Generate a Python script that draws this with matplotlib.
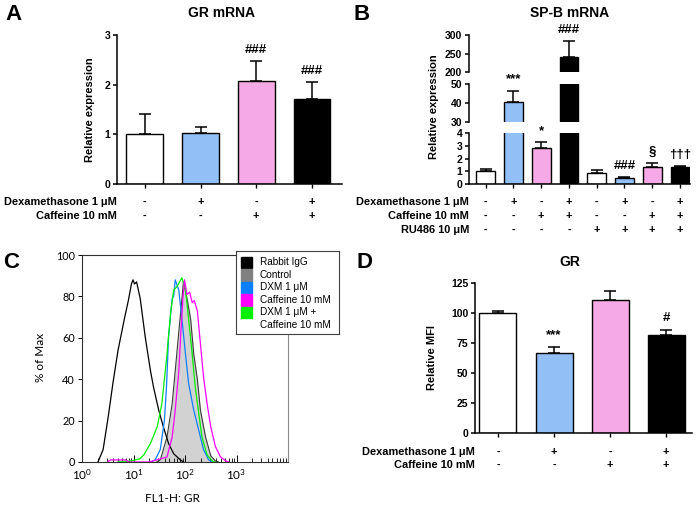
import matplotlib
matplotlib.use('Agg')
import matplotlib.pyplot as plt
import matplotlib.transforms as mtransforms
import numpy as np

plt.rcParams['font.family'] = ['Liberation Sans', 'DejaVu Sans']
plt.rcParams['font.weight'] = 'bold'

W, H = 700, 507
BLUE = '#91bff6'
PINK = '#f5a9e6'

# ---- Panel A : GR mRNA
gr_mrna = [1.00, 1.03, 2.07, 1.72]
gr_mrna_err = [0.40, 0.12, 0.41, 0.34]
gr_mrna_marks = ['', '', '###', '###']

# ---- Panel B : SP-B mRNA
spb_mrna = [1.0, 40.5, 2.8, 240, 0.9, 0.5, 1.35, 1.3]
spb_mrna_err = [0.2, 6.0, 0.5, 43, 0.22, 0.08, 0.27, 0.08]
spb_marks = ['', '***', '*', '###', '', '###', '§', '†††']

# ---- Panel D : GR MFI
gr_mfi = [100, 66.5, 111, 82]
gr_mfi_err = [1.8, 5.0, 7.0, 4.0]
gr_mfi_marks = ['', '***', '', '#']

colors4 = ['white', BLUE, PINK, 'black']
colors8 = colors4 * 2

dex4 = ['-', '+', '-', '+']
caf4 = ['-', '-', '+', '+']
dex8 = ['-', '+', '-', '+', '-', '+', '-', '+']
caf8 = ['-', '-', '+', '+', '-', '-', '+', '+']
ru8 = ['-', '-', '-', '-', '+', '+', '+', '+']

# ---- Panel C : flow histograms (log10 of FL1-H, % of max)
igg_log10 = [0.31, 0.41, 0.51, 0.60, 0.70, 0.83, 0.90, 0.96, 0.99, 1.02, 1.06, 1.13, 1.23, 1.33, 1.39, 1.49, 1.58, 1.68, 1.78, 1.91, 1.97]
igg_pct = [0, 6, 22, 38, 54, 70, 78, 86, 88, 86, 87, 79, 60, 44, 36, 25, 17, 9, 4, 1, 0]
ctrl_log10 = [1.45, 1.52, 1.65, 1.75, 1.81, 1.88, 1.94, 1.97, 2.04, 2.11, 2.17, 2.24, 2.30, 2.40, 2.50, 2.59, 2.65]
ctrl_pct = [0, 1, 12, 28, 44, 63, 79, 87, 79, 69, 52, 40, 25, 12, 3, 0.5, 0]
dxm_log10 = [1.35, 1.42, 1.52, 1.60, 1.64, 1.68, 1.75, 1.78, 1.81, 1.88, 1.94, 2.01, 2.07, 2.17, 2.27, 2.36, 2.46, 2.52]
dxm_pct = [0, 1, 6, 20, 36, 60, 79, 80, 88, 83, 69, 52, 38, 25, 15, 6, 1, 0]
caf_log10 = [0.50, 0.55, 0.85, 0.90, 1.30, 1.45, 1.65, 1.75, 1.81, 1.88, 1.92, 1.96, 1.99, 2.04, 2.09, 2.14, 2.18, 2.24, 2.30, 2.36, 2.43, 2.50, 2.59, 2.69, 2.79, 2.85]
caf_pct = [0, 1, 1, 0, 0, 1, 2.4, 12, 25, 44, 63, 79, 88, 81, 82, 77, 78, 73, 57, 41, 28, 17, 7.5, 2.4, 0.5, 0]
combo_log10 = [0.70, 0.95, 1.12, 1.20, 1.33, 1.46, 1.55, 1.65, 1.72, 1.78, 1.85, 1.94, 2.01, 2.07, 2.14, 2.20, 2.27, 2.33, 2.43, 2.53, 2.58]
combo_pct = [0, 0.5, 1.5, 3.4, 9, 17, 28, 52, 72, 83, 85, 89, 83, 69, 52, 36, 23, 12, 3.4, 0.5, 0]
c_labels = ['Rabbit IgG', 'Control', 'DXM 1 μM', 'Caffeine 10 mM', 'DXM 1 μM +\nCaffeine 10 mM']
c_colors = ['black', '#808080', '#0a80ff', '#ff00ff', '#00ee00']

fig = plt.figure(figsize=(7, 5.07), dpi=100)


def px_axes(x0, y0, x1, y1):
    return fig.add_axes([x0 / W, 1 - y1 / H, (x1 - x0) / W, (y1 - y0) / H])


def ftext(x, y, s, **kw):
    fig.text(x / W, 1 - y / H, s, **kw)


def style_bar_axes(ax, bottom=True):
    for s in ['top', 'right']:
        ax.spines[s].set_visible(False)
    ax.spines['left'].set_linewidth(1.1)
    ax.spines['bottom'].set_linewidth(1.1)
    ax.spines['bottom'].set_visible(bottom)
    ax.tick_params(axis='y', direction='out', length=2.9, width=1.1, labelsize=7.5, pad=2.0)
    ax.tick_params(axis='x', direction='out', length=2.9, width=1.0, labelbottom=False, bottom=bottom)


def draw_bars(ax, vals, errs, colors, width):
    x = np.arange(len(vals))
    ax.bar(x, vals, width, color=colors, edgecolor='black', linewidth=1.0, zorder=2)
    ax.errorbar(x, vals, yerr=[np.zeros(len(errs)), errs], fmt='none', ecolor='black',
                elinewidth=1.1, capsize=4.3, capthick=1.1, zorder=1)
    ax.set_xticks(x)


def draw_marks(ax, j, top, mark, dy_px=11, fs=9.5):
    ax.annotate(mark, xy=(j, top), xytext=(0, dy_px * 0.72), textcoords='offset points',
                ha='center', va='center', fontsize=fs, annotation_clip=False)


def draw_table(ax, names, rows, first_px=18, gap_px=14):
    trans = mtransforms.blended_transform_factory(ax.transData, ax.transAxes)
    for i, (name, signs) in enumerate(zip(names, rows)):
        dy = -(first_px + gap_px * i) * 0.72
        ax.annotate(name, xy=(0, 0), xycoords='axes fraction', xytext=(0, dy),
                    textcoords='offset points', ha='right', va='center', fontsize=7.9)
        for j, s in enumerate(signs):
            ax.annotate(s, xy=(j, 0), xycoords=trans, xytext=(0, dy),
                        textcoords='offset points', ha='center', va='center', fontsize=7.9)


# ================= Panel A
axA = px_axes(117, 35, 342, 184)
draw_bars(axA, gr_mrna, gr_mrna_err, colors4, 0.66)
axA.set_xlim(-0.50, 3.54)
axA.set_ylim(0, 3)
axA.set_yticks([0, 1, 2, 3])
style_bar_axes(axA)
for j, m in enumerate(gr_mrna_marks):
    if m:
        draw_marks(axA, j, gr_mrna[j] + gr_mrna_err[j], m)
draw_table(axA, ['Dexamethasone 1 μM', 'Caffeine 10 mM'], [dex4, caf4])
ftext(90, 110, 'Relative expression', rotation=90, ha='center', va='center', fontsize=8)
ftext(222, 13, 'GR mRNA', ha='center', va='center', fontsize=10)
ftext(13, 15, 'A', ha='center', va='center', fontsize=16)

# ================= Panel B (broken axis)
seg_px = [(133, 184), (84, 122), (35, 72)]
seg_lim = [(0, 4), (30, 50), (200, 300)]
seg_ticks = [[0, 1, 2, 3, 4], [30, 40, 50], [200, 250, 300]]
segs = []
for k, ((y0, y1), lim, tk) in enumerate(zip(seg_px, seg_lim, seg_ticks)):
    ax = px_axes(469, y0, 690, y1)
    draw_bars(ax, spb_mrna, spb_mrna_err, colors8, 0.68)
    ax.set_xlim(-0.60, 7.36)
    ax.set_ylim(*lim)
    ax.set_yticks(tk)
    style_bar_axes(ax, bottom=(k == 0))
    ax.patch.set_alpha(0)
    segs.append(ax)
for j, m in enumerate(spb_marks):
    if not m:
        continue
    top = spb_mrna[j] + spb_mrna_err[j]
    for ax, lim in zip(segs, seg_lim):
        if lim[0] <= top <= lim[1]:
            draw_marks(ax, j, top, m)
draw_table(segs[0], ['Dexamethasone 1 μM', 'Caffeine 10 mM', 'RU486 10 μM'], [dex8, caf8, ru8])
ftext(434, 107, 'Relative expression', rotation=90, ha='center', va='center', fontsize=8)
ftext(570, 13, 'SP-B mRNA', ha='center', va='center', fontsize=10)
ftext(362, 15, 'B', ha='center', va='center', fontsize=16)

# ================= Panel D
axD = px_axes(475, 283, 692, 433)
draw_bars(axD, gr_mfi, gr_mfi_err, colors4, 0.66)
axD.set_xlim(-0.41, 3.46)
axD.set_ylim(0, 125)
axD.set_yticks([0, 25, 50, 75, 100, 125])
style_bar_axes(axD)
for j, m in enumerate(gr_mfi_marks):
    if m:
        draw_marks(axD, j, gr_mfi[j] + gr_mfi_err[j], m, dy_px=12)
draw_table(axD, ['Dexamethasone 1 μM', 'Caffeine 10 mM'], [dex4, caf4], first_px=19, gap_px=13)
ftext(432, 358, 'Relative MFI', rotation=90, ha='center', va='center', fontsize=8)
ftext(570, 262, 'GR', ha='center', va='center', fontsize=10)
ftext(365, 263, 'D', ha='center', va='center', fontsize=16)

# ================= Panel C (flow cytometry)
cfont = dict(family=['Lato', 'DejaVu Sans'], fontweight='normal')
axC = px_axes(82, 255, 288, 462)
axC.set_xscale('log')
axC.fill_between(10 ** np.array(ctrl_log10), ctrl_pct, color='#d2d2d2', lw=0, zorder=1)
axC.plot(10 ** np.array(ctrl_log10), ctrl_pct, color='#3a3a3a', lw=0.8, zorder=2)
axC.plot(10 ** np.array(igg_log10), igg_pct, color=c_colors[0], lw=0.9, zorder=3)
axC.plot(10 ** np.array(dxm_log10), dxm_pct, color=c_colors[2], lw=0.9, zorder=3)
axC.plot(10 ** np.array(combo_log10), combo_pct, color=c_colors[4], lw=0.9, zorder=3)
axC.plot(10 ** np.array(caf_log10), caf_pct, color=c_colors[3], lw=0.9, zorder=3)
axC.set_xlim(1, 1e4)
axC.set_ylim(0, 100)
axC.set_yticks([0, 20, 40, 60, 80, 100])
axC.set_yticklabels(['0', '20', '40', '60', '80', '100'], fontsize=7.8, **cfont)
axC.set_xticks([1, 10, 100, 1000])
axC.set_xticklabels([r'$\mathdefault{10^{0}}$', r'$\mathdefault{10^{1}}$',
                     r'$\mathdefault{10^{2}}$', r'$\mathdefault{10^{3}}$'], fontsize=8.5, **cfont)
minor = [m * 10 ** d for d in range(4) for m in range(2, 10)]
axC.set_xticks(minor, minor=True)
axC.tick_params(axis='x', which='major', direction='in', length=5, width=0.7, pad=4)
axC.tick_params(axis='x', which='minor', direction='in', length=3, width=0.6, labelbottom=False)
axC.tick_params(axis='y', direction='out', length=3, width=0.7, pad=2)
for s in axC.spines.values():
    s.set_linewidth(0.8)
    s.set_color('#303030')
axC.spines['right'].set_color('#8a8a8a')
ftext(40, 357, '% of Max', rotation=90, ha='center', va='center', fontsize=8.5, **cfont)
ftext(172, 499, 'FL1-H: GR', ha='center', va='center', fontsize=8.5, **cfont)
ftext(11, 262, 'C', ha='center', va='center', fontsize=16)

# legend box for panel C
leg = px_axes(236, 251, 339, 334)
leg.set_xlim(0, 103)
leg.set_ylim(83, 0)
leg.set_xticks([])
leg.set_yticks([])
for s in leg.spines.values():
    s.set_linewidth(0.8)
    s.set_color('#404040')
row = 0
for lab, col in zip(c_labels, c_colors):
    leg.add_patch(plt.Rectangle((5, 5.5 + 12.5 * row), 11, 11.5, color=col))
    for line in lab.split('\n'):
        leg.text(24, 11.3 + 12.5 * row, line, ha='left', va='center', fontsize=7.2,
                 fontweight='normal')
        row += 1

fig.savefig('out.png', dpi=100)
